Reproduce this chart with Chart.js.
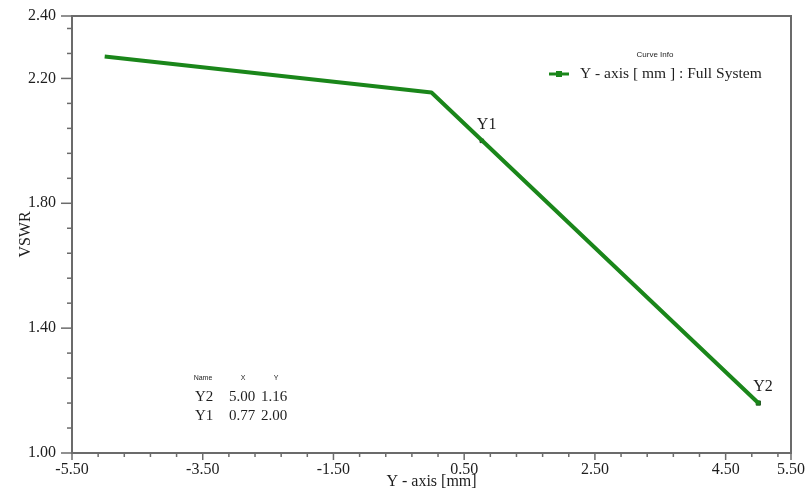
<!DOCTYPE html>
<html>
<head>
<meta charset="utf-8">
<title>VSWR vs Y offset</title>
<script src="https://cdn.jsdelivr.net/npm/chart.js@4.4.1/dist/chart.umd.min.js"></script>
<style>
    html, body { margin: 0; padding: 0; background: #fff; }
    #wrap { width: 808px; height: 495px; }
</style>
</head>
<body>
<div id="wrap"><canvas id="vswrChart" width="808" height="495"></canvas></div>
<script>
// Swept curve: Y offset [mm] against VSWR
const sweepX = [-5.0, 0.0, 5.0];
const sweepVswr = [2.27, 2.155, 1.16];

// Marker readouts (table order)
const markerNames = ['Y2', 'Y1'];
const markerX = [5.00, 0.77];
const markerY = [1.16, 2.00];

// Axis tick layout
const xLabeledTicks = [-5.5, -3.5, -1.5, 0.5, 2.5, 4.5, 5.5];
const yLabeledTicks = [1.00, 1.40, 1.80, 2.20, 2.40];
const xMinorStep = 0.4;
const yMinorStep = 0.08;

const curveColor = '#1a861a';
const axisColor = '#6b6b6b';
const textColor = '#1e1e1e';
const serif = '"Liberation Serif", "DejaVu Serif", serif';
const sans = '"Liberation Sans", Arial, sans-serif';

function stepTicks(min, max, step) {
    const out = [];
    for (let v = min; v < max - 1e-9; v += step) {
        out.push(Math.round(v * 1000) / 1000);
    }
    out.push(max);
    return out;
}

function isLabeled(list, value) {
    return list.some(v => Math.abs(v - value) < 1e-6);
}

// fixed box sizes so the plot area lands where it should
function fixScaleBox(scale, size) {
    if (scale.isHorizontal()) {
        scale.height = size;
    } else {
        scale.width = size;
    }
    scale.paddingTop = 0;
    scale.paddingBottom = 0;
    scale.paddingLeft = 0;
    scale.paddingRight = 0;
}

// Tick marks (long for labeled, short for the rest), frame, legend, marker labels and table
const chartDecor = {
    id: 'chartDecor',
    afterDraw(chart) {
        const ctx = chart.ctx;
        const area = chart.chartArea;
        const xs = chart.scales.x;
        const ys = chart.scales.y;

        ctx.save();
        ctx.strokeStyle = axisColor;

        // top and right frame lines
        ctx.lineWidth = 2;
        ctx.beginPath();
        ctx.moveTo(area.left, area.top);
        ctx.lineTo(area.right, area.top);
        ctx.lineTo(area.right, area.bottom);
        ctx.stroke();

        ctx.lineWidth = 1.5;
        xs.ticks.forEach(t => {
            const px = xs.getPixelForValue(t.value);
            const len = isLabeled(xLabeledTicks, t.value) ? 7 : 4;
            ctx.beginPath();
            ctx.moveTo(px, area.bottom);
            ctx.lineTo(px, area.bottom + len);
            ctx.stroke();
        });
        ys.ticks.forEach(t => {
            const py = ys.getPixelForValue(t.value);
            const len = isLabeled(yLabeledTicks, t.value) ? 11 : 5;
            ctx.beginPath();
            ctx.moveTo(area.left, py);
            ctx.lineTo(area.left - len, py);
            ctx.stroke();
        });

        // marker names next to their points
        ctx.fillStyle = textColor;
        ctx.font = '16px ' + serif;
        ctx.textAlign = 'left';
        ctx.textBaseline = 'middle';
        markerNames.forEach((name, i) => {
            const px = xs.getPixelForValue(markerX[i]);
            const py = ys.getPixelForValue(markerY[i]);
            ctx.fillText(name, px - 5, py - 16);
        });

        // legend
        ctx.textAlign = 'center';
        ctx.font = '8px ' + sans;
        ctx.fillText('Curve Info', 655, 55);
        ctx.strokeStyle = curveColor;
        ctx.lineWidth = 3;
        ctx.beginPath();
        ctx.moveTo(549, 74);
        ctx.lineTo(569, 74);
        ctx.stroke();
        ctx.fillStyle = curveColor;
        ctx.fillRect(556, 71, 6, 6);
        ctx.fillStyle = textColor;
        ctx.textAlign = 'left';
        ctx.font = '15.5px ' + serif;
        ctx.fillText(chart.data.datasets[0].label, 580, 74);

        // marker table
        ctx.font = '7px ' + sans;
        ctx.textAlign = 'center';
        ctx.fillText('Name', 203, 378);
        ctx.fillText('X', 243, 378);
        ctx.fillText('Y', 276, 378);
        ctx.font = '15px ' + serif;
        ctx.textAlign = 'left';
        markerNames.forEach((name, i) => {
            const rowY = 397 + i * 19.5;
            ctx.fillText(name, 195, rowY);
            ctx.fillText(markerX[i].toFixed(2), 229, rowY);
            ctx.fillText(markerY[i].toFixed(2), 261, rowY);
        });
        ctx.restore();
    }
};

const ctx = document.getElementById('vswrChart').getContext('2d');
new Chart(ctx, {
    type: 'line',
    data: {
        datasets: [
            {
                label: 'Y - axis [ mm ] : Full System',
                data: sweepX.map((x, i) => ({ x: x, y: sweepVswr[i] })),
                borderColor: curveColor,
                borderWidth: 4,
                pointRadius: 0,
                tension: 0,
                borderJoinStyle: 'round'
            },
            {
                label: 'Markers',
                data: markerX.map((x, i) => ({ x: x, y: markerY[i] })),
                showLine: false,
                pointStyle: 'rect',
                pointRadius: [3, 2.5],
                pointBackgroundColor: [curveColor, '#333'],
                pointBorderColor: ['#245a24', '#333'],
                pointBorderWidth: 1
            }
        ]
    },
    options: {
        responsive: false,
        animation: false,
        layout: { padding: { left: 0, right: 17, top: 16, bottom: 0 } },
        plugins: {
            legend: { display: false },
            tooltip: { enabled: false }
        },
        scales: {
            x: {
                type: 'linear',
                min: -5.5,
                max: 5.5,
                afterBuildTicks: scale => {
                    scale.ticks = stepTicks(-5.5, 5.5, xMinorStep).map(v => ({ value: v }));
                },
                afterFit: scale => fixScaleBox(scale, 42),
                grid: { display: false, drawTicks: false },
                border: { display: true, color: axisColor, width: 2 },
                ticks: {
                    autoSkip: false,
                    maxRotation: 0,
                    padding: 7,
                    color: textColor,
                    font: { family: serif, size: 16 },
                    callback: value => isLabeled(xLabeledTicks, value) ? value.toFixed(2) : ''
                },
                title: {
                    display: true,
                    text: 'Y - axis [mm]',
                    color: textColor,
                    font: { family: serif, size: 16 },
                    padding: { top: 0, bottom: 4 }
                }
            },
            y: {
                type: 'linear',
                min: 1.0,
                max: 2.4,
                afterBuildTicks: scale => {
                    scale.ticks = stepTicks(1.0, 2.4, yMinorStep).map(v => ({ value: v }));
                },
                afterFit: scale => fixScaleBox(scale, 72),
                grid: { display: false, drawTicks: false },
                border: { display: true, color: axisColor, width: 2 },
                ticks: {
                    autoSkip: false,
                    padding: 16,
                    color: textColor,
                    font: { family: serif, size: 16 },
                    callback: value => isLabeled(yLabeledTicks, value) ? value.toFixed(2) : ''
                },
                title: {
                    display: true,
                    text: 'VSWR',
                    color: textColor,
                    font: { family: serif, size: 16 },
                    padding: { top: 16, bottom: 0 }
                }
            }
        }
    },
    plugins: [chartDecor]
});
</script>
</body>
</html>
